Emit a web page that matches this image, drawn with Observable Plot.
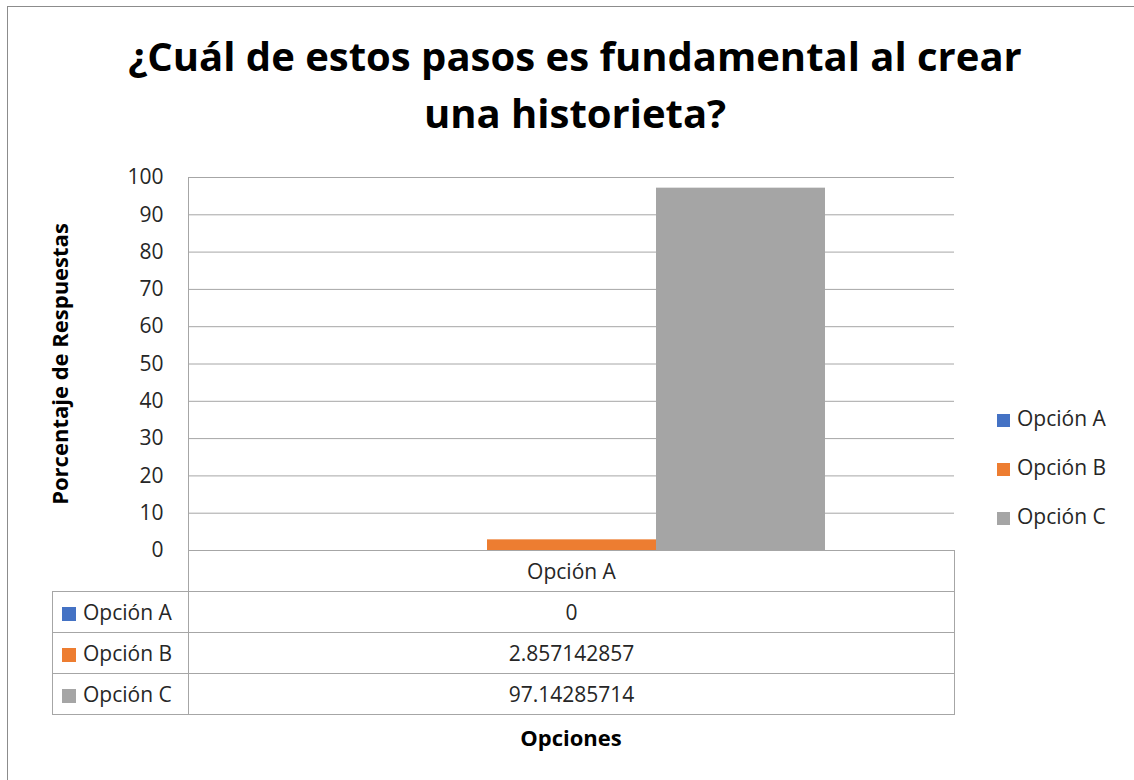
<!DOCTYPE html>
<html><head><meta charset="utf-8">
<script src="https://cdn.jsdelivr.net/npm/d3@7"></script>
<script src="https://cdn.jsdelivr.net/npm/@observablehq/plot@0.6"></script>
<style>
body{margin:0;background:#fff;font-family:"Open Sans",sans-serif;}
#chart{position:relative;width:1134px;height:780px;overflow:hidden;background:#fff;}
#frame{position:absolute;left:7px;top:6px;width:1200px;height:900px;border:1px solid #8c8c8c;box-sizing:border-box;}
#title{position:absolute;left:0;width:1150px;top:27px;text-align:center;font-weight:bold;font-size:40px;line-height:57px;color:#000;}
#plot{position:absolute;left:0;top:0;}
#table{position:absolute;left:52px;top:550px;border-collapse:collapse;font-size:21px;color:#262626;}
#table td{border:1px solid #a6a6a6;padding:0;height:41px;box-sizing:border-box;}
#table td.blank{border:none;border-right:1px solid #a6a6a6;border-bottom:1px solid #a6a6a6;}
#table td.lab{width:136px;padding-left:9px;white-space:nowrap;}
#table td.val{width:766px;text-align:center;}
.sw{display:inline-block;width:14px;height:14px;margin-right:7px;vertical-align:-1px;}
#legend{position:absolute;left:997px;top:404px;font-size:21px;color:#262626;}
#legend div{height:49px;white-space:nowrap;}
#xtitle{position:absolute;left:0;width:1142px;top:722px;text-align:center;font-weight:bold;font-size:22px;color:#000;}
</style></head>
<body>
<div id="chart">
  <div id="frame"></div>
  <div id="title"></div>
  <div id="plot"></div>
  <table id="table"></table>
  <div id="legend"></div>
  <div id="xtitle"></div>
</div>
<script>
const titleLines = ["¿Cuál de estos pasos es fundamental al crear", "una historieta?"];
const yTitle = "Porcentaje de Respuestas";
const xTitle = "Opciones";
const categories = ["Opción A"];
const series = ["Opción A", "Opción B", "Opción C"];
const values = [0, 2.857142857, 97.14285714];
const valueLabels = ["0", "2.857142857", "97.14285714"];
const colors = ["#4472C4", "#ED7D31", "#A5A5A5"];
const yTicks = [0, 10, 20, 30, 40, 50, 60, 70, 80, 90, 100];

const data = series.map((s, i) => ({series: s, category: categories[0], value: values[i]}));

document.getElementById("title").innerHTML = titleLines.join("<br>");
document.getElementById("xtitle").textContent = xTitle;

const plot = Plot.plot({
  width: 1134,
  height: 780,
  marginLeft: 188,
  marginRight: 180,
  marginTop: 177,
  marginBottom: 230,
  style: {fontFamily: "'Open Sans', sans-serif", background: "transparent"},
  x: {domain: series, paddingInner: 0, paddingOuter: 0.76, axis: null},
  y: {domain: [0, 100]},
  color: {domain: series, range: colors},
  marks: [
    Plot.gridY(yTicks, {stroke: "#a6a6a6", strokeOpacity: 1}),
    Plot.frame({anchor: "left", stroke: "#a6a6a6"}),
    Plot.barY(data, {x: "series", y: "value", fill: "series"}),
    Plot.axisY(yTicks, {tickSize: 0, tickPadding: 25, fontSize: 21, color: "#262626", label: null}),
    Plot.text([yTitle], {frameAnchor: "left", textAnchor: "middle", rotate: -90, dx: -128, fontWeight: "bold", fontSize: 22, fill: "#000"})
  ]
});
document.getElementById("plot").appendChild(plot);

// data table
const table = document.getElementById("table");
let html = `<tr><td class="blank" style="width:136px"></td><td class="val">${categories[0]}</td></tr>`;
series.forEach((s, i) => {
  html += `<tr><td class="lab"><span class="sw" style="background:${colors[i]}"></span>${s}</td><td class="val">${valueLabels[i]}</td></tr>`;
});
table.innerHTML = html;

// legend
document.getElementById("legend").innerHTML = series.map((s, i) =>
  `<div><span class="sw" style="background:${colors[i]};width:13px;height:13px;"></span>${s}</div>`).join("");
</script>
</body></html>
